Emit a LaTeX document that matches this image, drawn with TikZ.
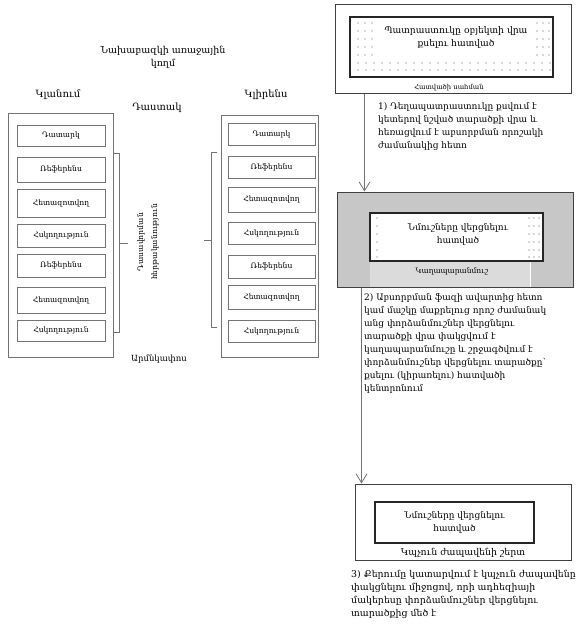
\documentclass[tikz,border=0pt]{standalone}
\usepackage{fontspec}
\setmainfont{DejaVu Serif}
\usetikzlibrary{arrows.meta}
\tikzset{
  cell/.style={draw=black!55, line width=0.6pt, minimum width=88pt, inner sep=0pt, font=\fontsize{7.6}{8}\selectfont},
  colbox/.style={draw=black!55, line width=0.8pt, inner sep=0pt},
  lbl/.style={font=\fontsize{10}{13}\selectfont, align=center, inner sep=0pt},
  small/.style={font=\fontsize{6.8}{8}\selectfont, inner sep=0pt},
  note/.style={font=\fontsize{9}{13}\selectfont, align=left, anchor=north west, inner sep=0pt},
  outerbox/.style={draw=black!75, line width=1pt, inner sep=0pt},
  innerbox/.style={draw=black!85, line width=1.8pt, inner sep=0pt, font=\fontsize{9}{13}\selectfont, align=center},
  brace/.style={draw=black!55, line width=0.8pt},
  flow/.style={draw=black!55, line width=1pt, -{Straight Barb[length=9pt,width=11pt,line width=0.8pt]}},
  dot/.style={fill=black!65}
}
\begin{document}
\begin{tikzpicture}[x=1pt,y=-1pt]
\useasboundingbox (0,0) rectangle (580,631);

% ---------- left part ----------
\node[lbl, font=\fontsize{9.5}{13}\selectfont] (title) at (163,57) {Նախաբազկի առաջային\\կողմ};
\node[lbl] (absorb) at (58,95) {Կլանում};
\node[lbl] (clear) at (266,95) {Կլիրենս};
\node[lbl] (wrist) at (157,108) {Դաստակ};
\node[lbl, font=\fontsize{8.5}{13}\selectfont] (elbow) at (159,359) {Արմնկափոս};

\node[colbox, minimum width=105pt, minimum height=244pt] (Lcol) at (60.5,235) {};
\node[colbox, minimum width=97pt, minimum height=242pt] (Rcol) at (269.5,236) {};

\node[cell, minimum height=21pt] (L1) at (61,135.5) {Դատարկ};
\node[cell, minimum height=25pt] (L2) at (61,169.5) {Ռեֆերենս};
\node[cell, minimum height=28pt] (L3) at (61,203) {Հետազոտվող};
\node[cell, minimum height=23pt] (L4) at (61,235.5) {Հսկողություն};
\node[cell, minimum height=23pt] (L5) at (61,265.5) {Ռեֆերենս};
\node[cell, minimum height=26pt] (L6) at (61,300) {Հետազոտվող};
\node[cell, minimum height=21pt] (L7) at (61,330.5) {Հսկողություն};

\node[cell, minimum width=87pt, minimum height=22pt] (R1) at (271.5,134) {Դատարկ};
\node[cell, minimum width=87pt, minimum height=22pt] (R2) at (271.5,167) {Ռեֆերենս};
\node[cell, minimum width=87pt, minimum height=25pt] (R3) at (271.5,199.5) {Հետազոտվող};
\node[cell, minimum width=87pt, minimum height=22pt] (R4) at (271.5,233) {Հսկողություն};
\node[cell, minimum width=87pt, minimum height=23pt] (R5) at (271.5,266.5) {Ռեֆերենս};
\node[cell, minimum width=87pt, minimum height=24pt] (R6) at (271.5,297) {Հետազոտվող};
\node[cell, minimum width=87pt, minimum height=22pt] (R7) at (271.5,331) {Հսկողություն};

\path[brace] (114,153) -- (119,153) -- (119,332) -- (114,332) (119,243) -- (128,243);
\path[brace] (217,152) -- (211,152) -- (211,327) -- (217,327) (211,240) -- (204,240);

\node[lbl, rotate=90, font=\fontsize{7.7}{14}\selectfont] (order) at (148,242) {Դասավորման\\հերթականություն};

% ---------- step 1 ----------
\node[outerbox, minimum width=236pt, minimum height=89pt] (top) at (453,49.5) {};
\node[innerbox, minimum width=203pt, minimum height=60pt] (topin) at (451.5,47) {};
\foreach \x in {358,365,372,537,543,549}
  \foreach \y in {23,31,39,47,55}
    \fill[dot] (\x,\y) circle (0.6pt);
\foreach \x in {358,366,...,550}
  \foreach \y in {63,70}
    \fill[dot] (\x,\y) circle (0.6pt);
\node[font=\fontsize{9.2}{13}\selectfont, align=center, inner sep=0pt] (toptext) at (456,37) {Պատրաստուկը օբյեկտի վրա\\քսելու հատված};
\node[small] (border) at (449,87.5) {Հատվածի սահման};

\node[note] (n1) at (378,102) {1) Դեղապատրաստուկը քսվում է\\կետերով նշված տարածքի վրա և\\հեռացվում է աբսորբման որոշակի\\ժամանակից հետո};

% ---------- step 2 ----------
\node[outerbox, fill=black!22, minimum width=236pt, minimum height=95pt] (mid) at (455,239.5) {};
\fill[black!14] (370,261) rectangle (530,287);
\draw[white, line width=0.8pt] (530,261) -- (530,287);
\node[innerbox, fill=white, minimum width=173pt, minimum height=48pt] (midin) at (456.5,237) {};
\foreach \y in {218,226,234,242,250,257}
  {\fill[dot] (377,\y) circle (0.55pt);
   \foreach \x in {529,534,539} \fill[dot] (\x,\y) circle (0.55pt);}
\node[innerbox, draw=none, fill=none] (midtext) at (458,234) {Նմուշները վերցնելու\\հատված};
\node[small, font=\fontsize{7.5}{8}\selectfont] (mold) at (452,271) {Կաղապարանմուշ};

\draw[flow] ([xshift=30pt]top.south west) -- ([xshift=28pt]mid.north west);

\node[note] (n2) at (364,293) {2) Աբսորբման ֆազի ավարտից հետո\\կամ մաշկը մաքրելուց որոշ ժամանակ\\անց փորձանմուշներ վերցնելու\\տարածքի վրա փակցվում է\\կաղապարանմուշը և շրջագծվում է\\փորձանմուշներ վերցնելու տարածքը՝\\քսելու (կիրառելու) հատվածի\\կենտրոնում};

% ---------- step 3 ----------
\node[outerbox, minimum width=216pt, minimum height=76pt] (bot) at (463,522) {};
\node[innerbox, line width=1.5pt, minimum width=159pt, minimum height=41pt] (botin) at (454.5,522.5) {Նմուշները վերցնելու\\հատված};
\node[font=\fontsize{9.4}{10}\selectfont, inner sep=0pt] (tape) at (463,553) {Կպչուն ժապավենի շերտ};

\draw[flow] ([xshift=25pt]mid.south west) -- ([xshift=7pt]bot.north west);

\node[note, font=\fontsize{9.4}{13}\selectfont] (n3) at (351,570) {3) Քերումը կատարվում է կպչուն ժապավենը\\փակցնելու միջոցով, որի ադհեզիայի\\մակերեսը փորձանմուշներ վերցնելու\\տարածքից մեծ է};
\end{tikzpicture}
\end{document}
